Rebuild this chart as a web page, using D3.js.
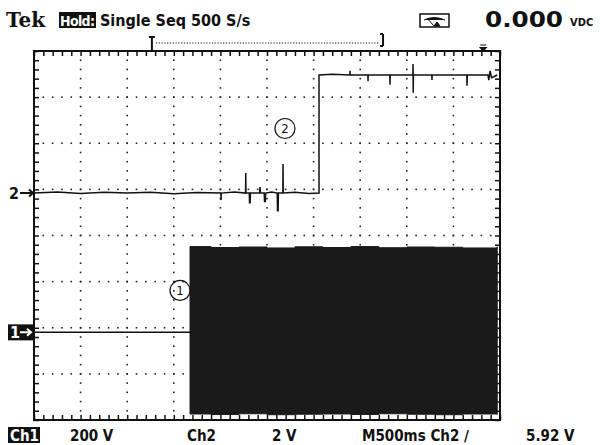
<!DOCTYPE html>
<html><head><meta charset="utf-8">
<script src="https://cdn.jsdelivr.net/npm/d3@7"></script>
<style>
html,body{margin:0;padding:0;background:#fff;}
svg{display:block;}
text{font-family:"DejaVu Sans Condensed","DejaVu Sans",sans-serif;font-weight:bold;fill:#111;}
</style></head>
<body>
<svg id="chart" width="607" height="445"></svg>
<script>
// ---- data ----
const timePerDiv = 0.5;            // s/div (M500ms)
const ch1VoltsPerDiv = 200;        // V/div
const ch2VoltsPerDiv = 2;          // V/div
const ch1Position = -2.1;          // divisions
const ch2Position = 0.92;          // divisions
const headerLabels = ["Tek", "Hold:", "Single Seq 500 S/s", "0.000", "VDC"];
const footerLabels = ["Ch1", "200 V", "Ch2", "2 V", "M500ms Ch2 \u2215", "5.92 V"];

// Ch1: flat before switch-on, then dense AC envelope
const ch1Time  = [0, 0.8, 1.674];
const ch1Volts = [0, 0, 0];
const ch1EnvTime = [1.674, 1.9, 2.2, 2.5, 2.8, 3.1, 3.4, 3.7, 4.0, 4.3, 4.6, 4.97];
const ch1EnvMax  = [372, 368, 370, 366, 371, 368, 372, 367, 370, 369, 366, 371];
const ch1EnvMin  = [-354, -356, -353, -357, -355, -354, -356, -353, -355, -357, -354, -356];

// Ch2: low level with glitches, step up, high level with glitches
const ch2Time  = [0, 0.25, 0.5, 0.75, 1.0, 1.25, 1.5, 1.75, 2.005, 2.007, 2.009, 2.15,
  2.27, 2.272, 2.274, 2.31, 2.313, 2.316, 2.319, 2.322, 2.42, 2.425, 2.43,
  2.47, 2.474, 2.478, 2.482, 2.486, 2.55, 2.61, 2.613, 2.616, 2.619, 2.622,
  2.67, 2.672, 2.674, 2.8, 2.95, 3.058, 3.058, 3.2, 3.389, 3.391, 3.393,
  3.582, 3.584, 3.586, 3.818, 3.82, 3.822, 4.065, 4.067, 4.069, 4.071,
  4.268, 4.27, 4.272, 4.644, 4.646, 4.649, 4.87, 4.88, 4.893, 4.91, 4.97];
const ch2Volts = [0, 0.05, -0.02, 0.04, 0, 0.03, -0.03, 0.02, 0, -0.3, 0, 0.05,
  0, 0.87, 0, 0, -0.45, 0, -0.45, 0, 0, 0.26, 0,
  0, -0.4, 0, -0.4, 0, 0.05, 0, -0.8, 0, -0.8, 0,
  0, 1.26, 0, 0.03, -0.02, 0, 5.12, 5.15, 5.12, 5.3, 5.12,
  5.12, 4.85, 5.12, 5.12, 4.7, 5.12, 5.12, 5.6, 4.35, 5.12,
  5.12, 4.9, 5.12, 5.12, 4.65, 5.12, 5.12, 4.9, 5.3, 5.0, 5.12];

// ---- layout ----
const svg = d3.select("#chart");
const L = 34, R = 500, T = 51, B = 420;
const x = d3.scaleLinear().domain([0, 10 * timePerDiv]).range([L, R]);
const yDiv = d3.scaleLinear().domain([-4, 4]).range([B, T]);
const y1 = v => yDiv(v / ch1VoltsPerDiv + ch1Position);
const y2 = v => yDiv(v / ch2VoltsPerDiv + ch2Position);

// graticule dots
const g = svg.append("g");
const majorT = d3.range(1, 10).map(i => i * timePerDiv);
const minorT = d3.range(1, 50).map(i => i * timePerDiv / 5);
const majorD = d3.range(-3, 4);
const minorD = d3.range(-19, 20).map(i => i / 5);
majorT.forEach(t => minorD.forEach(d => {
  g.append("rect").attr("x", x(t) - 0.8).attr("y", yDiv(d) - 0.8).attr("width", 1.6).attr("height", 1.6).attr("fill", "#222");
}));
majorD.forEach(d => minorT.forEach(t => {
  g.append("rect").attr("x", x(t) - 0.8).attr("y", yDiv(d) - 0.8).attr("width", 1.6).attr("height", 1.6).attr("fill", "#222");
}));

// border ticks via axes
const tickT = d3.range(0, 51).map(i => i * timePerDiv / 5);
const tickD = d3.range(-20, 21).map(i => i / 5);
function styleAxis(sel) {
  sel.select(".domain").remove();
  sel.selectAll("line").attr("stroke", "#111").attr("stroke-width", 1.5);
}
svg.append("g").attr("transform", `translate(0,${T})`)
  .call(d3.axisTop(x).tickValues(tickT).tickSize(-5).tickFormat("")).call(styleAxis);
svg.append("g").attr("transform", `translate(0,${B})`)
  .call(d3.axisBottom(x).tickValues(tickT).tickSize(-5).tickFormat("")).call(styleAxis);
svg.append("g").attr("transform", `translate(${L},0)`)
  .call(d3.axisLeft(yDiv).tickValues(tickD).tickSize(-5).tickFormat("")).call(styleAxis);
svg.append("g").attr("transform", `translate(${R},0)`)
  .call(d3.axisRight(yDiv).tickValues(tickD).tickSize(-5).tickFormat("")).call(styleAxis);
svg.append("rect").attr("x", L).attr("y", T).attr("width", R - L).attr("height", B - T)
  .attr("fill", "none").attr("stroke", "#111").attr("stroke-width", 2);

// Ch1 trace
const env = ch1EnvTime.map((t, i) => ({t, hi: ch1EnvMax[i], lo: ch1EnvMin[i]}));
svg.append("path").datum(env)
  .attr("d", d3.area().x(d => x(d.t)).y0(d => y1(d.lo)).y1(d => y1(d.hi)).curve(d3.curveStepAfter))
  .attr("fill", "#1a1a1a").attr("stroke", "#1a1a1a").attr("stroke-width", 1);
svg.append("path").datum(ch1Time.map((t, i) => [t, ch1Volts[i]]))
  .attr("d", d3.line().x(d => x(d[0])).y(d => y1(d[1])))
  .attr("fill", "none").attr("stroke", "#111").attr("stroke-width", 1.5);

// Ch2 trace
svg.append("path").datum(ch2Time.map((t, i) => [t, ch2Volts[i]]))
  .attr("d", d3.line().x(d => x(d[0])).y(d => y2(d[1])))
  .attr("fill", "none").attr("stroke", "#111").attr("stroke-width", 1.5);

// channel markers
svg.append("text").attr("x", 9).attr("y", y2(0) + 6).attr("font-size", 16).text("2");
svg.append("path").attr("d", `M20,${y2(0)}H33M29,${y2(0)-3.5}L33,${y2(0)}L29,${y2(0)+3.5}`)
  .attr("stroke", "#111").attr("stroke-width", 2).attr("fill", "none");
svg.append("rect").attr("x", 8).attr("y", y1(0) - 8).attr("width", 25).attr("height", 16).attr("fill", "#111");
svg.append("text").attr("x", 10).attr("y", y1(0) + 6).attr("font-size", 16).style("fill", "#fff").text("1");
svg.append("path").attr("d", `M20,${y1(0)}H31M27,${y1(0)-3.5}L31,${y1(0)}L27,${y1(0)+3.5}`)
  .attr("stroke", "#fff").attr("stroke-width", 2).attr("fill", "none");

// circled labels
[[2.693, y2(2.8), "2"], [1.567, y1(182), "1"]].forEach(([t, yy, s]) => {
  svg.append("circle").attr("cx", x(t)).attr("cy", yy).attr("r", 10)
    .attr("fill", "none").attr("stroke", "#111").attr("stroke-width", 1.2);
  svg.append("text").attr("x", x(t)).attr("y", yy + 5).attr("text-anchor", "middle")
    .attr("font-size", 13).style("font-weight", "normal").text(s);
});

// header
svg.append("text").attr("x", 6).attr("y", 27).attr("font-size", 20)
  .style("font-family", "'DejaVu Serif',serif").text(headerLabels[0]);
svg.append("rect").attr("x", 59).attr("y", 12).attr("width", 37).attr("height", 16).attr("fill", "#111");
svg.append("text").attr("x", 60).attr("y", 26).attr("font-size", 14).style("fill", "#fff")
  .attr("textLength", 35).text(headerLabels[1]);
svg.append("text").attr("x", 100).attr("y", 26).attr("font-size", 16).text(headerLabels[2]);
svg.append("text").attr("x", 485).attr("y", 27).attr("font-size", 21)
  .attr("textLength", 78).attr("lengthAdjust", "spacingAndGlyphs").text(headerLabels[3]);
svg.append("text").attr("x", 570).attr("y", 26).attr("font-size", 11).text(headerLabels[4]);
// meter icon
svg.append("rect").attr("x", 420).attr("y", 14).attr("width", 29).attr("height", 13)
  .attr("fill", "none").attr("stroke", "#111").attr("stroke-width", 1.5);
svg.append("path").attr("d", "M424,20 Q434,15 445,20 M434,26 L427,18 M434,26 L437,22 L440,26Z")
  .attr("fill", "#111").attr("stroke", "#111").attr("stroke-width", 1);

// record bracket above graticule
svg.append("path").attr("d", `M${x(1.265)},${T} V37 M${x(1.265)-3},37 H${x(1.265)+3} M${x(3.745)},34 V46 M${x(3.745)-3},34 H${x(3.745)} M${x(3.745)-3},46 H${x(3.745)}`)
  .attr("stroke", "#111").attr("stroke-width", 2).attr("fill", "none");
svg.append("line").attr("x1", x(1.265) + 4).attr("x2", x(3.745) - 3).attr("y1", 43).attr("y2", 43)
  .attr("stroke", "#111").attr("stroke-width", 1.2).attr("stroke-dasharray", "1.2,1.6");
// trigger marker
svg.append("path").attr("d", `M${x(4.82)-3},45 H${x(4.82)+3} M${x(4.82)-3},47.5 L${x(4.82)+3},47.5 L${x(4.82)},51 Z`)
  .attr("stroke", "#111").attr("stroke-width", 1.2).attr("fill", "#111");

// footer
svg.append("rect").attr("x", 8).attr("y", 427).attr("width", 32).attr("height", 16).attr("fill", "#111");
svg.append("text").attr("x", 10).attr("y", 441).attr("font-size", 15).style("fill", "#fff").text(footerLabels[0]);
svg.append("text").attr("x", 70).attr("y", 441).attr("font-size", 15).text(footerLabels[1]);
svg.append("text").attr("x", 187).attr("y", 441).attr("font-size", 15).text(footerLabels[2]);
svg.append("text").attr("x", 272).attr("y", 441).attr("font-size", 15).text(footerLabels[3]);
svg.append("text").attr("x", 362).attr("y", 441).attr("font-size", 15).text(footerLabels[4]);
svg.append("text").attr("x", 526).attr("y", 441).attr("font-size", 15).text(footerLabels[5]);
</script>
</body></html>
